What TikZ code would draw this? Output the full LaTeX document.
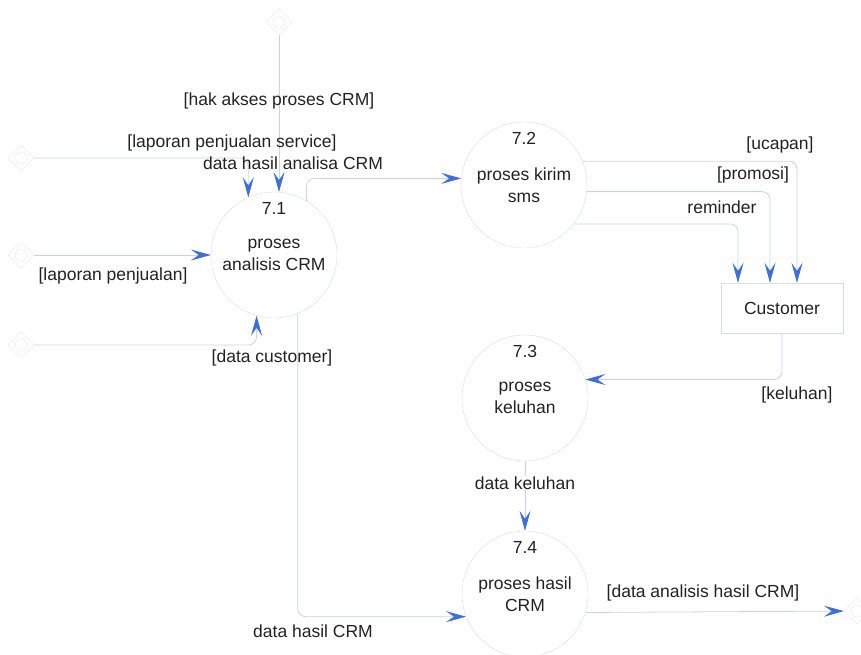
\documentclass[tikz,border=0pt]{standalone}
\usepackage{fontspec}
\setmainfont{Liberation Sans}
\usetikzlibrary{positioning,arrows.meta,shapes.geometric}
\definecolor{flowline}{HTML}{C4D4EE}
\definecolor{flowtip}{HTML}{3E6ED8}
\definecolor{ringcol}{HTML}{D6DDE6}
\definecolor{agentcol}{HTML}{E4E8EC}
\definecolor{txtcol}{HTML}{222222}

\begin{document}
\begin{tikzpicture}[
    x=1pt, y=-1pt,
    font=\fontsize{17.5}{22}\selectfont,
    text=txtcol,
    >={Stealth[length=20pt,width=11pt,inset=8pt,color=flowtip]},
    proc/.style={draw=ringcol, circle, minimum size=126pt, inner sep=0pt, align=center},
    store/.style={draw=ringcol, rectangle, minimum width=122pt, minimum height=50pt},
    agent/.style={diamond, draw=agentcol, minimum size=26pt, inner sep=0pt,
      path picture={\draw[agentcol] (path picture bounding box.center) circle (6pt);}},
    flow/.style={->, draw=flowline, line width=0.8pt, rounded corners=8pt},
    flowlabel/.style={inner sep=1pt, align=center}
  ]

  \useasboundingbox (0,0) rectangle (861,654);

  % processes and the customer box
  \node[proc] (p71) at (274,255) {proses\\analisis CRM};
  \node[proc] (p72) at (524,185) {proses kirim\\sms};
  \node[proc] (p73) at (525,398) {proses\\keluhan};
  \node[proc] (p74) at (525,594) {proses hasil\\CRM};
  \node[store] (cust) at (782,308) {Customer};

  % process numbers
  \node (n71) at ([yshift=-17pt]p71.north) {7.1};
  \node (n72) at ([yshift=-17pt]p72.north) {7.2};
  \node (n73) at ([yshift=-17pt]p73.north) {7.3};
  \node (n74) at ([yshift=-17pt]p74.north) {7.4};

  % outside agents
  \node[agent] (agtop) at (279,22) {};
  \node[agent] (agl1) at (21,158) {};
  \node[agent] (agl2) at (21,255) {};
  \node[agent] (agl3) at (21,345) {};
  \node[agent] (agr) at (857,611) {};

  % inputs of 7.1
  \draw[flow] (agtop) -- (agtop |- p71.85);
  \draw[flow] (agl1) -| (p71.114);
  \draw[flow] (agl2) -- (p71);
  \draw[flow] (agl3) -| (p71.-106);

  % 7.1 -> 7.2 and 7.1 -> 7.4
  \draw[flow] (p71.59) |- (p72.174);
  \draw[flow] (p71.-68) |- (p74.-159);

  % 7.2 -> Customer
  \draw[flow] (p72.22) -| ([xshift=15pt]cust.north);
  \draw[flow] (p72.-6) -| ([xshift=-12pt]cust.north);
  \draw[flow] (p72.-38) -| ([xshift=-44pt]cust.north);

  % Customer -> 7.3 -> 7.4 -> outside
  \draw[flow] (cust.south) |- (p73.17);
  \draw[flow] (p73.south) -- (p74.north);
  \draw[flow] (p74.-17) -- (agr);

  % flow labels
  \node[flowlabel] (lhak) at (279,101) {[hak akses proses CRM]};
  \node[flowlabel] (llps) at (232,143) {[laporan penjualan service]};
  \node[flowlabel] (ldha) at (293,163) {data hasil analisa CRM};
  \node[flowlabel] (llp) at (113,276) {[laporan penjualan]};
  \node[flowlabel] (ldc) at (272,358) {[data customer]};
  \node[flowlabel] (ldhc) at (313,631) {data hasil CRM};
  \node[flowlabel] (luc) at (780,145) {[ucapan]};
  \node[flowlabel] (lpro) at (753,175) {[promosi]};
  \node[flowlabel] (lrem) at (722,207) {reminder};
  \node[flowlabel] (lkel) at (797,395) {[keluhan]};
  \node[flowlabel, fill=white] (ldk) at (525,483) {data keluhan};
  \node[flowlabel] (ldahc) at (703,593) {[data analisis hasil CRM]};

\end{tikzpicture}
\end{document}
